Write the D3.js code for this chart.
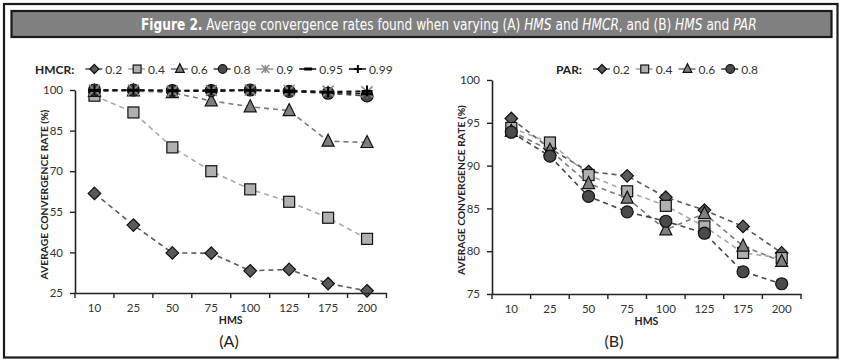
<!DOCTYPE html>
<html><head><meta charset="utf-8">
<script src="https://cdn.jsdelivr.net/npm/d3@7"></script>
<style>
body{margin:0;background:#fff;}
svg{display:block;}
text{font-family:Lato,"Open Sans",sans-serif;}
</style></head>
<body>
<svg id="c" width="841" height="362"></svg>
<script>
// ---------- DATA ----------
const categories = ["10","25","50","75","100","125","175","200"];
// Panel A: HMCR series
const hmcrLabels = ["0.2","0.4","0.6","0.8","0.9","0.95","0.99"];
const hmcr02  = [61.8, 50.1, 39.8, 39.7, 33.2, 33.7, 28.5, 25.8];
const hmcr04  = [97.9, 91.7, 78.8, 70.0, 63.3, 58.7, 52.8, 45.0];
const hmcr06  = [99.5, 99.7, 99.0, 96.0, 93.8, 92.4, 81.1, 80.6];
const hmcr08  = [100, 100, 99.8, 99.8, 100, 99.5, 98.8, 97.8];
const hmcr09  = [100, 100, 99.6, 99.8, 100, 99.8, 99.6, 99.3];
const hmcr095 = [99.8, 99.9, 99.7, 99.5, 99.9, 99.4, 99.2, 98.6];
const hmcr099 = [100, 100, 99.7, 100, 100, 99.8, 99.3, 99.6];
const yTicksA = [25, 40, 55, 70, 85, 100];
// Panel B: PAR series
const parLabels = ["0.2","0.4","0.6","0.8"];
const par02 = [95.5, 92.0, 89.3, 88.8, 86.3, 84.8, 82.9, 79.8];
const par04 = [94.4, 92.7, 88.9, 87.0, 85.3, 82.9, 79.8, 79.2];
const par06 = [94.0, 91.8, 87.9, 86.2, 82.5, 84.4, 80.6, 78.8];
const par08 = [93.9, 91.1, 86.4, 84.6, 83.5, 82.1, 77.6, 76.2];
const yTicksB = [75, 80, 85, 90, 95, 100];

// ---------- STYLES ----------
const styles = {
  diamond:  {fill:"#5a5a5a", line:"#5a5a5a"},
  square:   {fill:"#b0b0b0", line:"#a8a8a8"},
  triangle: {fill:"#7f7f7f", line:"#7a7a7a"},
  circle:   {fill:"#4a4a4a", line:"#444"},
  star:     {fill:"none", stroke:"#8a8a8a", line:"#9a9a9a"},
  dash:     {fill:"none", stroke:"#000", line:"#111"},
  plus:     {fill:"none", stroke:"#000", line:"#111"}
};

const svg = d3.select("#c");

// outer frame
svg.append("rect").attr("x",4).attr("y",4).attr("width",833.5).attr("height",353.5)
  .attr("fill","none").attr("stroke","#1a1a1a").attr("stroke-width",2.2);
// title bar
svg.append("rect").attr("x",11.5).attr("y",11).attr("width",820).attr("height",26)
  .attr("fill","#808080").attr("stroke","#1a1a1a").attr("stroke-width",2.2);
const titleG = svg.append("g");
const title = titleG.append("text").attr("x",0).attr("y",0)
  .attr("fill","#fff").style("font-family","'Liberation Sans Narrow','DejaVu Sans Condensed',sans-serif")
  .style("font-size","16px");
[["Figure 2.","bold",""],[" Average convergence rates found when varying (A) ","",""],["HMS","","italic"],
 [" and ","",""],["HMCR","","italic"],[", and (B) ","",""],["HMS","","italic"],[" and ","",""],["PAR","","italic"]]
 .forEach(([t,w,s])=>{const ts=title.append("tspan").text(t); if(w) ts.style("font-weight",w); if(s) ts.style("font-style",s);});
{
  const natural = title.node().getComputedTextLength();
  const target = 616, startX = 141;
  titleG.attr("transform",`translate(${startX},30) scale(${target/natural},1)`);
}

function drawMarker(g, type, x, y, st, scale){
  scale = scale||1;
  const sw = 1.2;
  if(type==="diamond"){
    const r=6.3*scale;
    g.append("path").attr("d",`M${x},${y-r}L${x+r},${y}L${x},${y+r}L${x-r},${y}Z`)
     .attr("fill",st.fill).attr("stroke","#111").attr("stroke-width",sw);
  } else if(type==="square"){
    const h=5.5*scale;
    g.append("rect").attr("x",x-h).attr("y",y-h).attr("width",2*h).attr("height",2*h)
     .attr("fill",st.fill).attr("stroke","#111").attr("stroke-width",sw);
  } else if(type==="triangle"){
    const h=6*scale;
    g.append("path").attr("d",`M${x},${y-h-1}L${x+h},${y+h-1}L${x-h},${y+h-1}Z`)
     .attr("fill",st.fill).attr("stroke","#111").attr("stroke-width",sw);
  } else if(type==="circle"){
    g.append("circle").attr("cx",x).attr("cy",y).attr("r",6*scale)
     .attr("fill",st.fill).attr("stroke","#111").attr("stroke-width",sw);
  } else if(type==="star"){
    const r=5.5*scale;
    g.append("path").attr("d",`M${x-r},${y-r}L${x+r},${y+r}M${x-r},${y+r}L${x+r},${y-r}M${x},${y-r}L${x},${y+r}`)
     .attr("stroke",st.stroke).attr("stroke-width",1.6).attr("fill","none");
  } else if(type==="dash"){
    const r=5.5*scale;
    g.append("path").attr("d",`M${x-r},${y}L${x+r},${y}`).attr("stroke",st.stroke).attr("stroke-width",3);
  } else if(type==="plus"){
    const r=5.5*scale;
    g.append("path").attr("d",`M${x-r},${y}L${x+r},${y}M${x},${y-r}L${x},${y+r}`)
     .attr("stroke",st.stroke).attr("stroke-width",2);
  }
}

function panel(cfg){
  const g = svg.append("g");
  const x = d3.scaleBand().domain(categories).range([cfg.x0, cfg.x1]);
  const y = d3.scaleLinear().domain(cfg.yDomain).range([cfg.yBottom, cfg.yTop]);

  // series
  cfg.series.forEach(s=>{
    const st = styles[s.type];
    const line = d3.line().x((d,i)=>x(categories[i])+x.bandwidth()/2).y(d=>y(d));
    g.append("path").attr("d",line(s.values)).attr("fill","none").attr("stroke",st.line)
      .attr("stroke-width",1.6).attr("stroke-dasharray","5,4");
    s.values.forEach((v,i)=>drawMarker(g, s.type, x(categories[i])+x.bandwidth()/2, y(v), st));
  });

  // axes
  const yAxis = d3.axisLeft(y).tickValues(cfg.yTicks).tickSize(5).tickPadding(7).tickSizeOuter(0);
  const ya = g.append("g").attr("transform",`translate(${cfg.x0},0)`).call(yAxis);
  const xAxis = d3.axisBottom(x).tickSize(0).tickPadding(11);
  const xa = g.append("g").attr("transform",`translate(0,${cfg.yBottom})`).call(xAxis);
  // tick marks at band boundaries
  const bounds = categories.map(c=>x(c)).concat([cfg.x1]);
  xa.selectAll("line.bt").data(bounds).enter().append("line").attr("class","bt")
    .attr("x1",d=>d).attr("x2",d=>d).attr("y1",0).attr("y2",5).attr("stroke","#222").attr("stroke-width",1.4);
  [ya,xa].forEach(a=>{
    a.select(".domain").attr("stroke","#222").attr("stroke-width",1.6);
    a.selectAll(".tick line").attr("stroke","#222").attr("stroke-width",1.4);
    a.selectAll(".tick text").attr("fill","#333").style("font-size","11.5px").style("font-family","Lato,sans-serif");
  });

  // axis titles
  g.append("text").attr("x",(cfg.x0+cfg.x1)/2).attr("y",cfg.yBottom+31).attr("text-anchor","middle")
    .style("font-weight","bold").style("font-size","10.5px").attr("fill","#222").text("HMS");
  g.append("text").attr("transform",`translate(${cfg.x0-27},${(cfg.yTop+cfg.yBottom)/2+3}) rotate(-90)`)
    .attr("text-anchor","middle").style("font-weight","bold").style("font-size","10.3px").attr("fill","#222")
    .text("AVERAGE CONVERGENCE RATE (%)");
  g.append("text").attr("x",cfg.panelLabelX).attr("y",347).attr("text-anchor","middle")
    .style("font-size","16px").attr("fill","#222").text(cfg.panelLabel);

  // legend
  const lg = g.append("g");
  const head = lg.append("text").attr("x",cfg.legendX).attr("y",cfg.legendY+4.5)
    .style("font-weight","bold").style("font-size","12px").attr("fill","#222").text(cfg.legendTitle);
  let cx = cfg.legendX + head.node().getComputedTextLength() + 20;
  cfg.series.forEach(s=>{
    const st = styles[s.type];
    lg.append("line").attr("x1",cx-9).attr("x2",cx+8).attr("y1",cfg.legendY).attr("y2",cfg.legendY)
      .attr("stroke",st.line).attr("stroke-width",1.6);
    drawMarker(lg, s.type, cx, cfg.legendY, st, 0.72);
    const t = lg.append("text").attr("x",cx+11).attr("y",cfg.legendY+4.5).style("font-size","12px")
      .attr("fill","#333").text(s.label);
    cx = cx + 11 + t.node().getComputedTextLength() + 15;
  });
}

panel({
  x0:75, x1:386.5, yTop:90, yBottom:293, yDomain:[25,100], yTicks:yTicksA,
  panelLabel:"(A)", panelLabelX:229, legendTitle:"HMCR:", legendX:35, legendY:69,
  series:[
    {label:hmcrLabels[0], type:"diamond", values:hmcr02},
    {label:hmcrLabels[1], type:"square", values:hmcr04},
    {label:hmcrLabels[2], type:"triangle", values:hmcr06},
    {label:hmcrLabels[3], type:"circle", values:hmcr08},
    {label:hmcrLabels[4], type:"star", values:hmcr09},
    {label:hmcrLabels[5], type:"dash", values:hmcr095},
    {label:hmcrLabels[6], type:"plus", values:hmcr099}
  ]
});
panel({
  x0:492, x1:801, yTop:80, yBottom:294, yDomain:[75,100], yTicks:yTicksB,
  panelLabel:"(B)", panelLabelX:614, legendTitle:"PAR:", legendX:556, legendY:69,
  series:[
    {label:parLabels[0], type:"diamond", values:par02},
    {label:parLabels[1], type:"square", values:par04},
    {label:parLabels[2], type:"triangle", values:par06},
    {label:parLabels[3], type:"circle", values:par08}
  ]
});
</script>
</body></html>
